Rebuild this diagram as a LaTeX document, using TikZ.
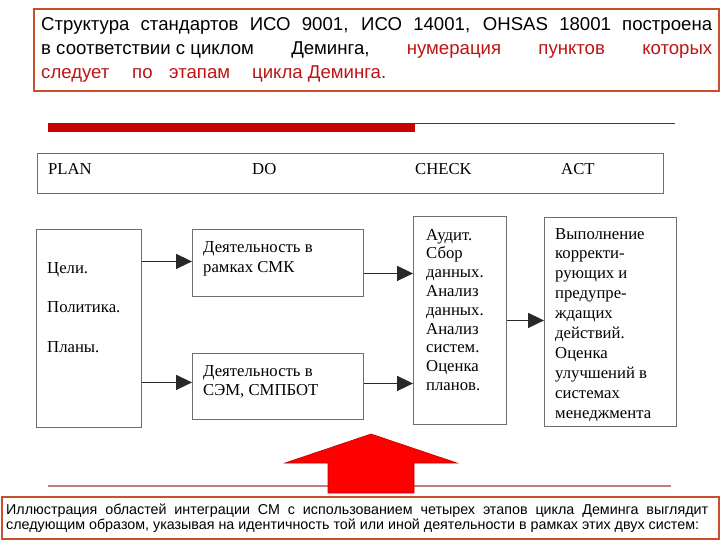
\documentclass[tikz,border=0pt]{standalone}
\usepackage{fontspec}
\setmainfont{Liberation Serif}
\newfontfamily\arialf{Liberation Sans}
\usetikzlibrary{arrows.meta,calc}
\definecolor{frameC}{RGB}{200,80,45}
\definecolor{txtRed}{RGB}{190,20,20}
\definecolor{barRed}{RGB}{200,0,0}
\definecolor{barLineC}{RGB}{160,20,20}
\definecolor{boxGray}{RGB}{110,110,110}
\definecolor{arrGray}{RGB}{40,40,40}
\definecolor{lineRose}{RGB}{195,125,125}
\definecolor{arrowRed}{RGB}{255,0,0}
\begin{document}
\begin{tikzpicture}[x=1pt,y=-1pt,
  frame/.style={draw=boxGray, line width=0.9pt, inner sep=0pt, anchor=north west},
  redframe/.style={draw=frameC, line width=2pt, inner sep=0pt, anchor=north west},
  lbl/.style={inner sep=0pt, anchor=base west, align=left, font=\fontsize{16.7}{18.8}\selectfont},
  arr/.style={draw=arrGray, line width=1.5pt, -{Triangle[length=16pt,width=15pt]}}]
\useasboundingbox (0,0) rectangle (720,540);
\fill[white] (0,0) rectangle (720,540);

% top text box
\node[redframe, minimum width=685pt, minimum height=82pt] (topbox) at (33,8) {};
\node[inner sep=0pt, anchor=base west, align=left, font=\arialf\fontsize{18.6}{24}\selectfont] (toptext) at (41,79)
 {\hbox to 671pt{Структура стандартов ИСО 9001, ИСО 14001, OHSAS 18001 построена}\\
  \hbox to 671pt{в соответствии с циклом\hfill Деминга,\hfill \textcolor{txtRed}{нумерация}\hfill \textcolor{txtRed}{пунктов}\hfill \textcolor{txtRed}{которых}}\\
  {\color{txtRed}\makebox[91pt][l]{следует}\makebox[37pt][l]{по}\makebox[83pt][l]{этапам}цикла Деминга.}};

% red bar
\fill[barRed] (48,123) rectangle (415,132);
\draw[barLineC, line width=1.2pt] (415,123.6) -- (675,123.6);

% header
\node[frame, minimum width=626pt, minimum height=40pt] (header) at (37,153) {};
\node[lbl] (plan) at (48,174.5) {PLAN};
\node[lbl] (do) at (252,174.5) {DO};
\node[lbl] (check) at (415,174.5) {CHECK};
\node[lbl] (act) at (561,174.5) {ACT};

% boxes
\node[frame, minimum width=105pt, minimum height=198pt] (goals) at (36,229) {};
\node[frame, minimum width=171pt, minimum height=67pt] (smk) at (192,229) {};
\node[frame, minimum width=171pt, minimum height=66pt] (sem) at (192,353) {};
\node[frame, minimum width=93pt, minimum height=208pt] (audit) at (413,216) {};
\node[frame, minimum width=132pt, minimum height=209pt] (actbox) at (544,217) {};

\node[lbl, font=\fontsize{16.7}{39.5}\selectfont] (goalsT) at (47,352) {Цели.\\Политика.\\Планы.};
\node[lbl, font=\fontsize{16.7}{20}\selectfont] (smkT) at (203,272) {Деятельность в\\рамках СМК};
\node[lbl, font=\fontsize{16.7}{19.5}\selectfont] (semT) at (203,395.5) {Деятельность в\\СЭМ, СМПБОТ};
\node[lbl, font=\fontsize{16.7}{18.8}\selectfont] (auditT) at (426,390.4) {Аудит.\\Сбор\\данных.\\Анализ\\данных.\\Анализ\\систем.\\Оценка\\планов.};
\node[lbl, font=\fontsize{16.7}{19.9}\selectfont] (actT) at (555,418.1) {Выполнение\\корректи-\\рующих и\\предупре-\\ждащих\\действий.\\Оценка\\улучшений в\\системах\\менеджмента};

% connectors
\draw[arr] ($(goals.east |- smk.west)+(0,-1.5)$) -- ($(smk.west)+(0,-1.5)$);
\draw[arr] ($(goals.east |- sem.west)+(0,-4)$) -- ($(sem.west)+(0,-4)$);
\draw[arr] ($(smk.east)+(0,10.5)$) -- ($(smk.east -| audit.west)+(0,10.5)$);
\draw[arr] ($(sem.east)+(0,-3)$) -- ($(sem.east -| audit.west)+(0,-3)$);
\draw[arr] (audit.east) -- (audit.east -| actbox.west);

% bottom line and big red arrow
\draw[lineRose, line width=2pt] (48,486) -- (671,486);
\filldraw[fill=arrowRed, draw=arrowRed!75!black, line width=0.6pt]
  (371,434) -- (457,463) -- (414,463) -- (414,493) -- (328,493) -- (328,463) -- (285,463) -- cycle;

% bottom text box
\node[redframe, minimum width=717pt, minimum height=42pt] (botbox) at (1,496) {};
\node[inner sep=0pt, anchor=base west, align=left, font=\arialf\fontsize{14.3}{15}\selectfont] (bottext) at (6,529)
 {\hbox to 702pt{Иллюстрация областей интеграции СМ с использованием четырех этапов цикла Деминга выглядит}\\
  следующим образом, указывая на идентичность той или иной деятельности в рамках этих двух систем:};
\end{tikzpicture}
\end{document}
